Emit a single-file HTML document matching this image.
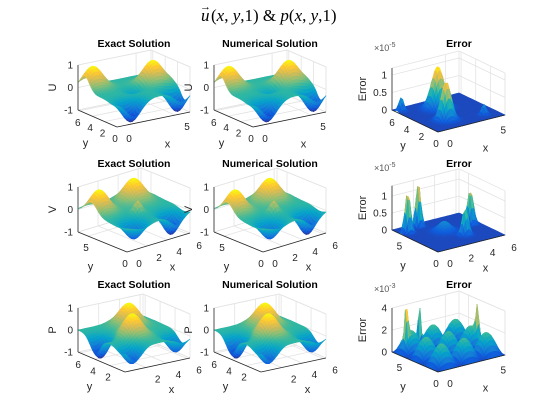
<!DOCTYPE html>
<html><head><meta charset="utf-8"><style>
body{margin:0;background:#fff;}
svg{display:block;font-family:"Liberation Sans",sans-serif;}
</style></head><body>
<svg id="fig" width="560" height="420" viewBox="0 0 560 420" xmlns="http://www.w3.org/2000/svg">
<rect width="560" height="420" fill="#fff"/>
<g font-family="Liberation Serif, serif" font-size="17" fill="#000">
<text x="200" y="10" font-size="11">→</text>
<text x="201" y="21" font-style="italic">u</text>
<text x="211" y="21">(<tspan font-style="italic">x</tspan>, <tspan font-style="italic">y</tspan>,1)  &amp;  <tspan font-style="italic">p</tspan>(<tspan font-style="italic">x</tspan>, <tspan font-style="italic">y</tspan>,1)</text>
</g>
</svg>
<script>
const TWO_PI = 2*Math.PI;
// Bump descriptions for each field: [x, y, amplitude, width]
const bumpsU = [[0.7,5.2,1,0.75],[1.5,0.6,-1,0.7],[5.0,3.6,1,0.75],[5.6,0.8,-1,0.65],[3.0,3.0,-0.3,0.5]];
const bumpsV = [[0.8,4.6,1,0.75],[1.6,1.2,-0.8,0.7],[4.4,4.8,1,0.8],[5.0,0.8,-1,0.65],[3.1,2.6,0.5,0.3]];
const bumpsP = [[4.0,5.0,1,0.8],[2.6,2.6,1,0.75],[0.5,4.0,-1,0.65],[1.0,0.5,-0.8,0.65],[5.6,1.0,-0.8,0.65]];
const bumpsE1 = [[3.0,4.4,1.2,0.5],[2.0,1.8,1.1,0.4],[0.4,5.6,0.4,0.2],[5.0,1.0,0.3,0.2]];
const bumpsE2 = [[0.6,5.0,1.2,0.22],[2.0,5.6,1.3,0.2],[3.8,1.8,0.8,0.25],[5.5,3.6,1.0,0.25],[3.0,3.5,0.3,0.5]];
const spikesE3 = [[0.6,5.2,3.6,0.12],[2.2,5.8,4.0,0.12],[5.6,2.8,3.0,0.12]];

function bumpField(b){return (x,y)=>{let s=0;for(const [cx,cy,a,w] of b){s+=a*Math.exp(-((x-cx)**2+(y-cy)**2)/(2*w*w));}return s;};}
const fU=bumpField(bumpsU), fV=bumpField(bumpsV), fP=bumpField(bumpsP);
const fE1=bumpField(bumpsE1), fE2=bumpField(bumpsE2);
const fE3=(x,y)=>Math.min(4,2*Math.abs(Math.sin(1.5*x)*Math.sin(1.5*y))+bumpField(spikesE3)(x,y));

const parula=[[53,42,135],[15,92,221],[20,129,214],[6,164,202],[46,183,164],[135,191,119],[209,187,89],[254,200,50],[249,251,14]];
function cmap(t){t=Math.max(0,Math.min(1,t))*8;const i=Math.min(7,Math.floor(t)),f=t-i;const a=parula[i],b=parula[i+1];
return `rgb(${Math.round(a[0]+(b[0]-a[0])*f)},${Math.round(a[1]+(b[1]-a[1])*f)},${Math.round(a[2]+(b[2]-a[2])*f)})`;}

const NS='http://www.w3.org/2000/svg';
const svg=document.getElementById('fig');
function el(tag,attrs,parent){const e=document.createElementNS(NS,tag);for(const k in attrs)e.setAttribute(k,attrs[k]);(parent||svg).appendChild(e);return e;}

const panels=[
 {name:'u-exact',title:'Exact Solution',tx:134,ty:47,O:[117,127],ex:[73,-15],ey:[-39,-17],zmin:-1,zmax:1,zpx:22.5,f:fU,zl:'U',zt:[-1,0,1],xt:[0,5],yt:[0,2,4,6],exp:null,cmin:0},
 {name:'u-numerical',title:'Numerical Solution',tx:270,ty:47,O:[253,127],ex:[73,-15],ey:[-39,-17],zmin:-1,zmax:1,zpx:22.5,f:fU,zl:'U',zt:[-1,0,1],xt:[0,5],yt:[0,2,4,6],exp:null,cmin:0},
 {name:'u-error',title:'Error',tx:459,ty:47,O:[438,132],ex:[67,-17],ey:[-46,-22],zmin:0,zmax:1.2,zpx:35,f:fE1,zl:'Error',zt:[0,0.5,1],xt:[0,5],yt:[0,2,4,6],exp:'-5',cmin:0.08},
 {name:'v-exact',title:'Exact Solution',tx:134,ty:167,O:[127,252],ex:[63,-19],ey:[-49,-20],zmin:-1,zmax:1,zpx:22.5,f:fV,zl:'V',zt:[-1,0,1],xt:[0,2,4,6],yt:[0,5],exp:null,cmin:0},
 {name:'v-numerical',title:'Numerical Solution',tx:270,ty:167,O:[263,252],ex:[63,-19],ey:[-49,-20],zmin:-1,zmax:1,zpx:22.5,f:fV,zl:'V',zt:[-1,0,1],xt:[0,2,4,6],yt:[0,5],exp:null,cmin:0},
 {name:'v-error',title:'Error',tx:459,ty:167,O:[438,252],ex:[67,-17],ey:[-46,-22],zmin:0,zmax:1.3,zpx:34,f:fE2,zl:'Error',zt:[0,0.5,1],xt:[0,2,4,6],yt:[0,5],exp:'-5',cmin:0.08},
 {name:'p-exact',title:'Exact Solution',tx:134,ty:288,O:[125,372],ex:[65,-14],ey:[-47,-20],zmin:-1,zmax:1,zpx:22,f:fP,zl:'P',zt:[-1,0,1],xt:[2,4,6],yt:[2,4,6],exp:null,cmin:0},
 {name:'p-numerical',title:'Numerical Solution',tx:270,ty:288,O:[261,372],ex:[65,-14],ey:[-47,-20],zmin:-1,zmax:1,zpx:22,f:fP,zl:'P',zt:[-1,0,1],xt:[2,4,6],yt:[2,4,6],exp:null,cmin:0},
 {name:'p-error',title:'Error',tx:459,ty:288,O:[438,372],ex:[67,-17],ey:[-46,-20],zmin:0,zmax:4,zpx:11,f:fE3,zl:'Error',zt:[0,2,4],xt:[0,5],yt:[0,5],exp:'-3',cmin:0.08}
];

const N=36;
panels.forEach(p=>{
 const g=el('g',{});
 
 
 const P=(x,y,z)=>[p.O[0]+p.ex[0]*x/TWO_PI+p.ey[0]*y/TWO_PI, p.O[1]+p.ex[1]*x/TWO_PI+p.ey[1]*y/TWO_PI-(z-p.zmin)*p.zpx];
 const pt=a=>a[0].toFixed(1)+','+a[1].toFixed(1);
 const zt=p.zmax;
 const grid='#e3e3e3';
 const gl=(a,b)=>el('line',{x1:a[0],y1:a[1],x2:b[0],y2:b[1],stroke:grid,'stroke-width':0.8},g);
 gl(P(TWO_PI,0,zt),P(TWO_PI,TWO_PI,zt));gl(P(0,TWO_PI,zt),P(TWO_PI,TWO_PI,zt));
 gl(P(TWO_PI,TWO_PI,p.zmin),P(TWO_PI,TWO_PI,zt));gl(P(TWO_PI,0,p.zmin),P(TWO_PI,0,zt));
 gl(P(TWO_PI,0,p.zmin),P(TWO_PI,TWO_PI,p.zmin));gl(P(0,TWO_PI,p.zmin),P(TWO_PI,TWO_PI,p.zmin));
 p.zt.forEach(v=>{gl(P(0,TWO_PI,v),P(TWO_PI,TWO_PI,v));gl(P(TWO_PI,TWO_PI,v),P(TWO_PI,0,v));});
 p.xt.forEach(v=>{const x=Math.min(v,TWO_PI);gl(P(x,0,p.zmin),P(x,TWO_PI,p.zmin));gl(P(x,TWO_PI,p.zmin),P(x,TWO_PI,zt));});
 p.yt.forEach(v=>{const y=Math.min(v,TWO_PI);gl(P(0,y,p.zmin),P(TWO_PI,y,p.zmin));gl(P(TWO_PI,y,p.zmin),P(TWO_PI,y,zt));});
 const cells=[];
 for(let i=0;i<N;i++)for(let j=0;j<N;j++){
  const x0=TWO_PI*i/N,x1=TWO_PI*(i+1)/N,y0=TWO_PI*j/N,y1=TWO_PI*(j+1)/N;
  const z=[p.f(x0,y0),p.f(x1,y0),p.f(x1,y1),p.f(x0,y1)];
  cells.push({i,j,x0,x1,y0,y1,z,zm:(z[0]+z[1]+z[2]+z[3])/4});
 }
 cells.sort((a,b)=>(b.i+b.j)-(a.i+a.j));
 const sg=el('g',{},g);
 
 
 cells.forEach(c=>{
  const col=cmap(p.cmin+(1-p.cmin)*(c.zm-p.zmin)/(p.zmax-p.zmin));
  el('polygon',{points:[P(c.x0,c.y0,c.z[0]),P(c.x1,c.y0,c.z[1]),P(c.x1,c.y1,c.z[2]),P(c.x0,c.y1,c.z[3])].map(pt).join(' '),fill:col,stroke:col,'stroke-width':0.6},sg);
 });
 const al=(a,b)=>el('line',{x1:a[0],y1:a[1],x2:b[0],y2:b[1],stroke:'#262626','stroke-width':0.8},g);
 al(P(0,0,p.zmin),P(TWO_PI,0,p.zmin));al(P(0,0,p.zmin),P(0,TWO_PI,p.zmin));al(P(0,TWO_PI,p.zmin),P(0,TWO_PI,zt));
 const txt=(s,x,y,anchor,extra)=>{const t=el('text',Object.assign({x,y,'text-anchor':anchor,'font-size':10,fill:'#262626'},extra||{}),g);t.textContent=s;return t;};
 p.zt.forEach(v=>{const q=P(0,TWO_PI,v);txt(String(v),q[0]-5,q[1]+3.5,'end');});
 p.xt.forEach(v=>{const q=P(Math.min(v,TWO_PI),0,p.zmin);txt(String(v),q[0]+12,q[1]+15,'middle');});
 p.yt.forEach(v=>{const q=P(0,Math.min(v,TWO_PI),p.zmin);txt(String(v),q[0]-2,q[1]+15,'middle');});
 const xm=P(TWO_PI/2,0,p.zmin),ym=P(0,TWO_PI/2,p.zmin),zm=P(0,TWO_PI,(p.zmin+p.zmax)/2);
 const xl=txt('x',xm[0]+14,xm[1]+28,'middle',{'font-size':11});
 
 const yl=txt('y',ym[0]-12,ym[1]+28,'middle',{'font-size':11});
 
 const zx=p.exp?zm[0]-26:zm[0]-22;
 const zl=txt(p.zl,zx,zm[1],'middle',{'font-size':11,transform:`rotate(-90 ${zx} ${zm[1]})`});
 
 if(p.exp){const e=txt('×10',p.tx-85,p.ty+4,'start',{'font-size':9,fill:'#555'});
  const s=el('tspan',{'font-size':7,dy:-4},e);s.textContent=p.exp;
  }
 const t=txt(p.title,p.tx,p.ty,'middle',{'font-size':10.5,'font-weight':'bold',fill:'#000'});
 
});
</script>
</body></html>
